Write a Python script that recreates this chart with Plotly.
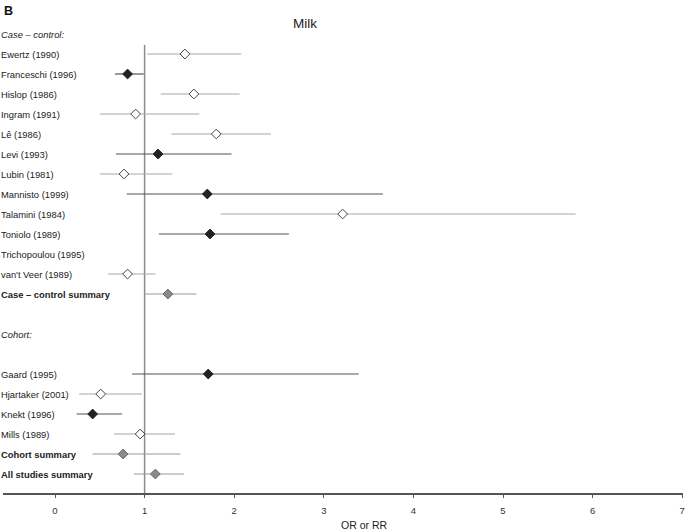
import plotly.graph_objects as go

# ---- data ----
labels = ["Case – control:", "Ewertz (1990)", "Franceschi (1996)", "Hislop (1986)", "Ingram (1991)",
          "Lê (1986)", "Levi (1993)", "Lubin (1981)", "Mannisto (1999)", "Talamini (1984)",
          "Toniolo (1989)", "Trichopoulou (1995)", "van't Veer (1989)", "Case – control summary",
          "", "Cohort:", "", "Gaard (1995)", "Hjartaker (2001)", "Knekt (1996)", "Mills (1989)",
          "Cohort summary", "All studies summary"]
kinds = ["header", "open", "filled", "open", "open", "open", "filled", "open", "filled", "open",
         "filled", "none", "open", "summary", "blank", "header", "blank", "filled", "open", "filled",
         "open", "summary", "summary"]
estimate = [None, 1.45, 0.81, 1.55, 0.90, 1.80, 1.15, 0.77, 1.70, 3.21, 1.73, None, 0.81, 1.26,
            None, None, None, 1.71, 0.51, 0.42, 0.95, 0.76, 1.12]
lower = [None, 1.03, 0.67, 1.18, 0.50, 1.30, 0.68, 0.50, 0.80, 1.85, 1.16, None, 0.59, 1.00,
         None, None, None, 0.86, 0.27, 0.24, 0.66, 0.42, 0.88]
upper = [None, 2.08, 0.99, 2.06, 1.61, 2.41, 1.97, 1.31, 3.66, 5.81, 2.61, None, 1.12, 1.58,
         None, None, None, 3.39, 0.97, 0.75, 1.34, 1.40, 1.44]
x_ticks = [0, 1, 2, 3, 4, 5, 6, 7]

FONT = "Liberation Sans, Arial, sans-serif"
W, H = 685, 532
ML, MR, MT, MB = 3, 2, 24, 39
PW, PH = W - ML - MR, H - MT - MB


def px_x(p):
    return (p - ML) / PW


def px_y(p):
    return (H - MB - p) / PH


style = {
    "open": dict(line="#a8a8a8", fill="white", edge="#444444"),
    "filled": dict(line="#555555", fill="#222222", edge="#222222"),
    "summary": dict(line="#9a9a9a", fill="#8a8a8a", edge="#6a6a6a"),
}

fig = go.Figure()
annotations = []
for i, (lab, k) in enumerate(zip(labels, kinds)):
    yv = -i
    if lab:
        txt = lab
        if k == "header":
            txt = "<i>" + lab + "</i>"
        elif k == "summary":
            txt = "<b>" + lab + "</b>"
        annotations.append(dict(x=0, xref="paper", y=yv, yref="y", text=txt, showarrow=False,
                                xanchor="left", yanchor="middle", xshift=-4,
                                font=dict(family=FONT, size=9.4, color="#222222")))
    if estimate[i] is not None:
        s = style[k]
        fig.add_trace(go.Scatter(
            x=[estimate[i]], y=[yv], mode="markers",
            error_x=dict(type="data", symmetric=False, array=[upper[i] - estimate[i]],
                         arrayminus=[estimate[i] - lower[i]], width=0, color=s["line"],
                         thickness=1.2),
            marker=dict(symbol="diamond", size=7.5, color=s["fill"],
                        line=dict(color=s["edge"], width=1)),
            showlegend=False, hoverinfo="skip"))

fig.add_shape(type="line", x0=1, x1=1, y0=-0.55, y1=-22.95, xref="x", yref="y",
              line=dict(color="#8c8c8c", width=1.5), layer="below")

annotations.append(dict(x=px_x(305), y=px_y(23), xref="paper", yref="paper",
                        text="Milk", showarrow=False, xanchor="center", yanchor="middle",
                        font=dict(family=FONT, size=13.5, color="#222222")))
annotations.append(dict(x=px_x(2), y=px_y(11), xref="paper", yref="paper",
                        text="<b>B</b>", showarrow=False, xanchor="left", yanchor="middle",
                        font=dict(family=FONT, size=12.5, color="#111111")))
annotations.append(dict(x=px_x(364), y=px_y(525), xref="paper", yref="paper",
                        text="OR or RR", showarrow=False, xanchor="center", yanchor="middle",
                        font=dict(family=FONT, size=10.5, color="#222222")))

# y value v sits at pixel 34 - 20*v
y_top = (34 - MT) / 20
y_bot = (34 - (H - MB)) / 20

fig.update_layout(
    width=W, height=H,
    margin=dict(l=ML, r=MR, t=MT, b=MB, autoexpand=False),
    paper_bgcolor="white", plot_bgcolor="white",
    annotations=annotations,
    xaxis=dict(range=[(ML - 55) / 89.6, (W - MR - 55) / 89.6], tickvals=x_ticks,
               ticktext=[str(t) for t in x_ticks], automargin=False,
               showgrid=False, zeroline=False, showline=True, linecolor="#555555", linewidth=1.5,
               ticks="outside", ticklen=3, tickcolor="#555555", tickwidth=1,
               ticklabelstandoff=5,
               tickfont=dict(family=FONT, size=9.5, color="#333333")),
    yaxis=dict(range=[y_bot, y_top], visible=False),
)

fig.write_html("out.html", config={"displayModeBar": False},
               post_script="document.body.style.margin='0';document.body.style.padding='0';")
